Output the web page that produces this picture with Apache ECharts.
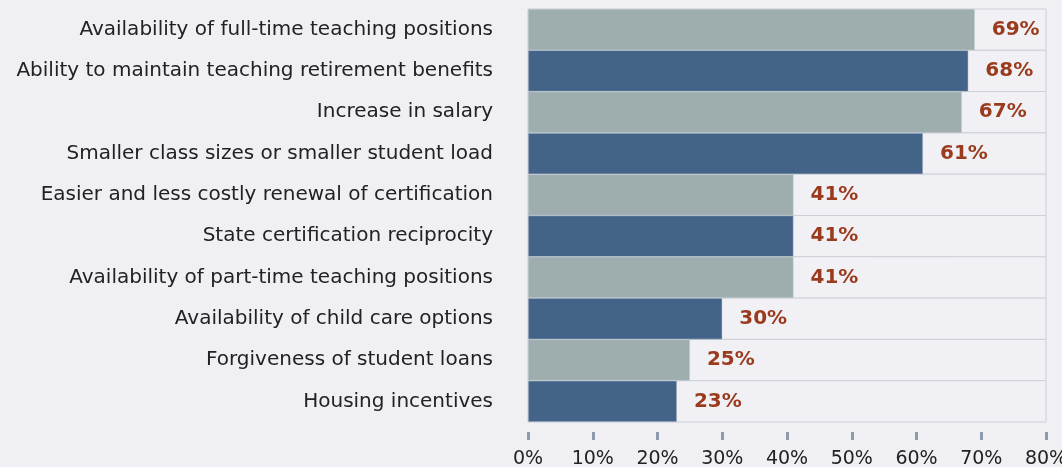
<!DOCTYPE html>
<html><head><meta charset="utf-8">
<script src="https://cdn.jsdelivr.net/npm/echarts@6/dist/echarts.min.js"></script>
<style>html,body{margin:0;padding:0;background:#efeff4;}#c{width:1062px;height:467px;}</style>
</head><body><div id="c"></div>
<script>
const categories = [
  "Availability of full-time teaching positions",
  "Ability to maintain teaching retirement benefits",
  "Increase in salary",
  "Smaller class sizes or smaller student load",
  "Easier and less costly renewal of certification",
  "State certification reciprocity",
  "Availability of part-time teaching positions",
  "Availability of child care options",
  "Forgiveness of student loans",
  "Housing incentives"
];
const values = [69, 68, 67, 61, 41, 41, 41, 30, 25, 23];
const xTicks = [0, 10, 20, 30, 40, 50, 60, 70, 80];

const barColors = ['#9eaeae', '#436488'];
const chart = echarts.init(document.getElementById('c'));
chart.setOption({
  backgroundColor: '#efeff4',
  animation: false,
  grid: {left: 528, right: 16, top: 9, bottom: 45, outerBoundsMode: 'none', containLabel: false},
  xAxis: {
    type: 'value', min: xTicks[0], max: xTicks[xTicks.length-1], interval: 10,
    offset: 10,
    splitLine: {show: false},
    axisLine: {show: false},
    axisTick: {show: true, length: 8, lineStyle: {color: '#8e9ba8', width: 3}},
    axisLabel: {formatter: '{value}%', color: '#222', fontSize: 19, margin: 18, fontFamily: 'DejaVu Sans'}
  },
  yAxis: {
    type: 'category', data: categories, inverse: true,
    axisLine: {show: false}, axisTick: {show: false},
    axisLabel: {color: '#222', fontSize: 20, margin: 35, fontFamily: 'DejaVu Sans'}
  },
  series: [{
    type: 'bar',
    barCategoryGap: 0,
    data: values.map((v, i) => ({value: v, itemStyle: {color: barColors[i % 2]}})),
    showBackground: true,
    backgroundStyle: {color: '#f1f1f5', borderColor: '#cdd1d8', borderWidth: 1},
    itemStyle: {borderColor: '#c9ced6', borderWidth: 0.5},
    label: {show: true, position: 'right', distance: 17, formatter: '{c}%',
      color: '#9a3b1e', fontSize: 20, fontWeight: 'bold', fontFamily: 'DejaVu Sans'}
  }]
});
</script></body></html>
